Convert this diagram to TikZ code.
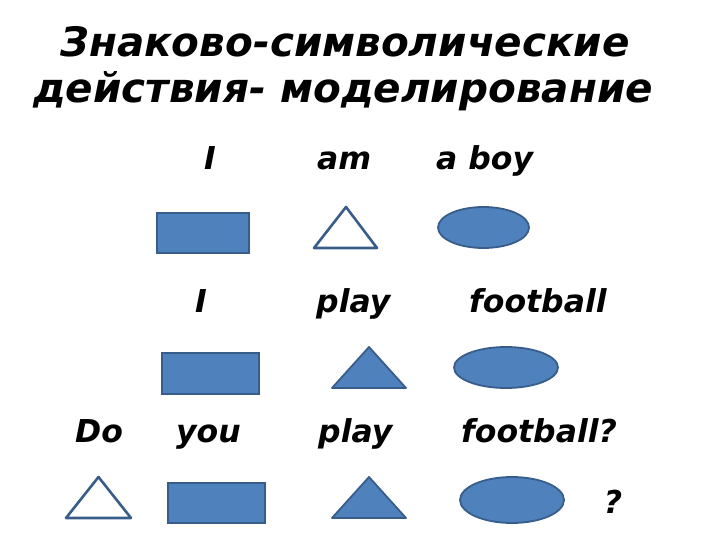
\documentclass[tikz,border=0pt]{standalone}
\usepackage{fontspec}
\setmainfont{DejaVu Sans}[BoldItalicFont={DejaVu Sans Bold Oblique}]
\usetikzlibrary{shapes.geometric,positioning}

\definecolor{shapeblue}{RGB}{79,129,189}
\definecolor{edgeblue}{RGB}{56,93,138}

\begin{document}
\begin{tikzpicture}[x=1bp,y=-1bp]

\tikzstyle{title} = [inner sep=0, anchor=base, font=\fontsize{40.5bp}{48bp}\selectfont\bfseries\itshape]
\tikzstyle{word} = [inner sep=0, anchor=base west, font=\fontsize{31.5bp}{36bp}\selectfont\bfseries\itshape]
\tikzstyle{noun} = [rectangle, draw=edgeblue, fill=shapeblue, line width=1.8bp, inner sep=0]
\tikzstyle{obj} = [ellipse, draw=edgeblue, fill=shapeblue, line width=1.8bp, inner sep=0]
\tikzstyle{verb} = [draw=edgeblue, fill=shapeblue, line width=1.8bp, line join=round]
\tikzstyle{aux} = [draw=edgeblue, fill=white, line width=2.6bp, line join=round]

\useasboundingbox (0,0) rectangle (720,540);

%% -----------
%% -- TITLE --
%% -----------
\node (head1) [title] at (345,57) {Знаково-символические};
\node (head2) [title] at (343,103) {действия- моделирование};

%% -- I am a boy --
\node (i1)    [word, anchor=base] at (210,170) {I};
\node (am)    [word] at (317,170) {am};
\node (boy)   [word] at (436,170) {a boy};

\node (r1)  [noun, minimum width=92bp, minimum height=40bp] at (203,233) {};
\draw [aux] (314,248) -- (346,207) -- (377,248) -- cycle;
\node (e1)  [obj, minimum width=91bp, minimum height=41bp] at (483.5,227.5) {};

%% -- I play football --
\node (i2)    [word, anchor=base] at (201,312) {I};
\node (play1) [word] at (316,312) {play};
\node (ball1) [word] at (469,312) {football};

\node (r2)  [noun, minimum width=97bp, minimum height=41bp] at (210.5,373.5) {};
\draw [verb] (332,388) -- (369,347) -- (406,388) -- cycle;
\node (e2)  [obj, minimum width=104bp, minimum height=41bp] at (506,367.5) {};

%% -- Do you play football? --
\node (do)    [word] at (75,442) {Do};
\node (you)   [word] at (176,442) {you};
\node (play2) [word] at (318,442) {play};
\node (ball2) [word] at (461,442) {football?};

\draw [aux] (66,518) -- (98.5,477) -- (131,518) -- cycle;
\node (r3)  [noun, minimum width=97bp, minimum height=40bp] at (216.5,503) {};
\draw [verb] (332,518) -- (369,477) -- (406,518) -- cycle;
\node (e3)  [obj, minimum width=104bp, minimum height=46bp] at (512,500) {};
\node (q)   [word, anchor=base] at (613,513) {?};

\end{tikzpicture}
\end{document}
